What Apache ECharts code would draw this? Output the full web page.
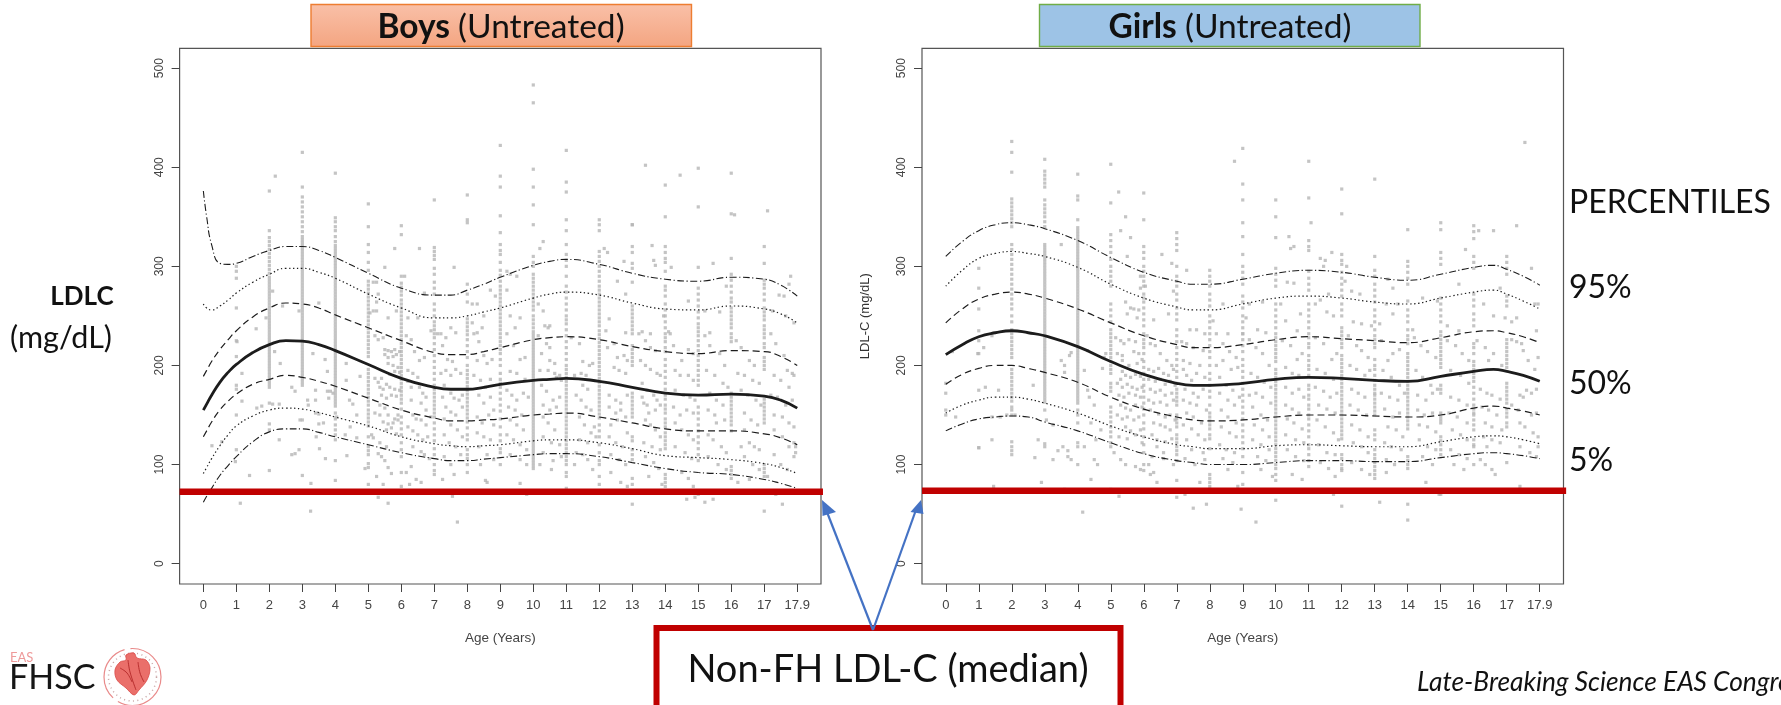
<!DOCTYPE html>
<html><head><meta charset="utf-8"><title>LDL-C percentiles by age</title>
<style>html,body{margin:0;padding:0;background:#fff;overflow:hidden}#c{width:1781px;height:705px}</style>
<script src="https://cdn.jsdelivr.net/npm/echarts@6/dist/echarts.min.js"></script>
</head><body><div id="c"></div>
<script>
const xTickValues=[0,1,2,3,4,5,6,7,8,9,10,11,12,13,14,15,16,17,18];
const xTickLabels=['0','1','2','3','4','5','6','7','8','9','10','11','12','13','14','15','16','17','17.9'];
const yTickValues=[0,100,200,300,400,500];
const nonFhMedianBoys=72.5;
const nonFhMedianGirls=73.5;

const boysCurveAges=[0,0.1,0.25,0.5,0.75,1,1.5,2,2.5,3,3.5,4,5,6,7,7.5,8,8.5,9,10,10.5,11,12,13,14,15,16,17,17.5,18];
const boysP95=[376,350,322,303,302,303,310,316,320,320,316,309,293,278,271,271,276,282,289,301,305,307,302,293,287,285,289,287,281,270];
const boysP90=[262,258,256,260,266,273,284,292,298,298,294,288,272,258,248,248,250,254,258,268,272,274,271,263,257,256,260,257,252,243];
const boysP75=[189,195,204,216,226,235,249,258,263,262,258,251,238,225,213,211,211,214,218,226,228,229,226,219,214,212,215,214,209,200];
const boysP50=[155,161,170,183,193,201,213,221,225,224.5,221,215,201,187,178,176,176,178,181,185,186,187,184,178,172,170,171,169,165,157];
const boysP25=[128,134,143,155,164,171,181,186,190,188,184,179,167,155,147,144,144,145,146,150,151,152,148,142,136,134,134,131,127,120];
const boysP10=[91,97,106,119,130,139,149,155,157,156,152.5,148,139,128,121,119,118,119,120,124,125,125,122,116,109,107,105,101,97,91];
const boysP5=[62,68,76,89,99,108,123,133,136,136,132.5,128,120,112,106,104,104,105.5,107,110,111,111,108,102,96,92,90,85,81,76];

const girlsCurveAges=[0,0.5,1,1.5,2,2.5,3,4,5,6,7,7.5,8,9,10,11,12,13,14,15,16,16.6,17,17.5,18];
const girlsP95=[310,325,336,342,344,342,338,326,309,294,285,282,282,287,293,296,294,289,286,292,299,301,297,290,281];
const girlsP90=[280,296,308,313,315,313,310,299,282,268,259,256,256,262,268,270,268,264,262,268,274,276,272,265,257];
const girlsP75=[243,257,267,272,274,272,268,257,243,230,221,218,218,221,226,229,227,225,223,228,234,235,233,229,223];
const girlsP50=[211,221,229,233,235,233,230,219,204,191,182,180,180,182,186,188,187,185,184,189,194,196,194,190,184];
const girlsP25=[181,191,197,200,200,197,193,183,168,156,148,145,144,145,148,150,150,149,148,150,157,159,157,154,150];
const girlsP10=[152,160,165,168,168,166,162,152,139,128,120,118,116,116,119,120,119,118,118,123,128,129,128,125,121];
const girlsP5=[134,141,146,148,149,148,143,134,122,111,104,102,100,100,102,104,104,103,103,107,111,112,111,109,106];

const columnAges=[1,2,3,4,5,6,7,8,9,10,11,12,13,14,15,16,17];
const boysColumnValues=[
[300,295,288,258,225,209,180,176,150,115],
[376,336,329,325,321,317,313,309,305,301,297,293,289,286,283,280,277,274,271,268,265,262,259,256,253,250,247,244,241,238,235,232,229,226,223,220,217,214,211,208,205,202,199,196,193,190,187,184,181,178,162,141,135,94],
[415,380,370,365,360,355,350,345,340,335,330,327,324,321,318,315,312,309,306,303,300,297,294,291,288,285,282,279,276,273,270,267,264,261,258,255,252,249,246,243,240,237,234,231,228,225,222,219,216,213,210,207,204,201,198,195,192,189,186,183,180,145,89],
[394,349,345,340,336,330,325,321,318,315,312,309,306,303,300,297,294,291,288,285,282,279,276,273,270,267,264,261,258,255,252,249,246,243,240,237,234,231,228,225,222,219,216,213,210,207,204,201,198,195,192,189,186,183,180,177,174,171,168,165,162,159,152,146,140,135,130,125,104,84],
[363,340,322,314,304,296,285,281,277,273,269,265,261,257,253,249,245,241,237,233,229,225,221,217,213,209,196,192,188,184,180,176,172,168,164,160,155,151,147,143,139,128,118,114,110,101,97,80],
[341,332,290,283,279,275,271,266,262,258,254,250,246,242,238,234,230,226,222,218,214,210,206,202,198,194,190,186,182,178,174,170,166,162,156,148,142,136,130,122,115,108,92,78],
[367,319,315,311,307,298,292,284,278,272,262,256,250,244,240,236,232,228,222,216,210,204,198,192,186,180,176,172,168,164,160,156,152,148,142,136,130,124,116,110,100,94,90],
[372,347,344,282,272,264,247,243,239,235,231,226,220,214,208,200,195,191,187,183,179,175,171,167,163,159,155,151,147,143,137,130,125,115,110,106,100,92],
[422,391,380,351,334,322,316,312,304,296,291,285,280,276,272,268,264,260,256,252,248,244,240,236,232,228,224,220,216,212,206,200,192,186,182,178,172,166,160,154,146,138,130,124,116,112,100],
[483,465,398,380,362,342,310,304,300,292,288,284,280,276,272,268,264,260,256,250,246,242,238,234,231,228,225,222,219,216,213,210,207,204,201,198,195,192,189,186,183,180,177,174,171,168,165,162,159,156,153,150,147,144,141,138,135,132,129,126,123,120,117,114,111,108,105,102,99,96],
[417,385,375,347,336,322,312,306,300,290,280,274,268,262,256,250,246,242,236,230,224,218,212,206,200,196,192,188,184,180,176,172,168,164,160,156,152,148,144,140,136,132,128,124,120,116,112,108,104,100,92,88,76],
[347,342,336,315,310,305,300,295,290,285,280,276,272,268,264,260,256,252,248,244,240,235,231,227,223,219,215,211,207,203,199,195,191,187,183,179,175,171,167,163,159,155,151,147,140,134,128,120,112,104,100,88,80],
[342,320,314,303,298,284,260,256,252,248,244,240,236,232,220,216,212,208,204,200,172,168,164,160,156,152,148,128,124,115,110,105,86,80,60],
[382,350,320,314,308,304,295,280,276,270,262,256,250,244,238,232,228,224,218,214,206,200,194,188,182,176,170,166,160,156,152,146,142,138,132,128,124,120,116,90,86,82,78],
[399,360,299,278,272,266,260,254,248,242,238,234,230,225,220,215,210,205,200,195,190,185,180,158,152,146,140,134,128,122,116,110,104,70],
[394,353,308,292,286,280,274,268,264,258,254,250,246,242,238,232,228,224,172,168,164,160,156,152,148,144,140,134,98,94,90,86],
[320,303,286,282,278,272,266,258,254,250,246,240,236,232,228,222,218,208,204,200,196,166,162,158,154,150,146,142,100,96,92,88]
];
const boysScatterFlat=[
2.18,391,2.1,275,2.4,260,2.9,255,3.5,263,1.6,237,1.9,248,1.02,224,1.17,192,1.17,164,0.26,119,0.56,123,0.97,103,1.4,89,1.12,61,1.62,157,1.77,159,2.1,161,2.3,161,2.16,214,2.33,202,2.3,125,2.68,178,2.78,174,2.93,145,2.68,110,2.78,111,2.9,115,3.26,81,3.16,165,3.18,160,3.4,165,3.4,175,3.32,212,3.69,206,3.76,194,3.76,174,3.85,174,3.93,172,3.8,167,3.4,152,3.5,151,3.64,142,3.5,141,3.42,128,3.52,116,3.7,106,4.35,109,4.33,202,4.33,185,4.43,165,4.53,161,4.04,148,4.45,138,4.65,150,4.3,130,4.65,127,4.75,189,3.25,53,4.9,96,
5.15,284,5.25,284,5.3,272,5.25,264,5.15,255,5.25,255,5.05,253,5.6,248,5.85,255,5.5,299,5.8,318,6.1,290,6.55,318,6.5,248,6.7,273,6.2,248,6.9,235,7.1,232,7.6,299,7.5,238,7.65,233,8.15,243,8.3,233,8.5,250,8.15,262,8.3,262,8.45,238,8.7,276,8.85,270,
9.2,295,9.3,292,9.5,290,9.2,276,9.3,250,9.45,238,9.6,248,10.3,325,10.2,318,10.15,262,10.3,255,10.35,240,10.5,240,10.45,238,
12.15,318,12.25,314,12.3,247,12.55,285,12.75,305,12.8,272,13,342,13.4,402,13.6,321,13.7,301,13.65,306,12.8,233,13.3,234,13.55,232,14.18,299,13.95,250,14.1,234,14.7,265,14.45,392,15.2,255,15.35,233,15.45,303,15.85,280,15.65,254,16.1,352,17.1,356,17.8,290,17.75,282,17.45,271,17.6,270,17.25,255,17.65,250,17.9,243,
5.2,230,5.3,226,5.45,228,5.5,216,5.6,215,5.7,214,5.8,216,5.95,214,5.5,211,5.6,208,5.75,209,5.85,211,5.6,202,5.75,200,5.9,198,5.65,191,5.8,194,5.95,193,5.2,187,5.3,183,5.4,187,5.35,178,5.45,176,5.55,181,5.65,178,5.8,176,5.95,175,5.4,170,5.55,167,5.7,170,5.85,169,5.35,160,5.5,157,5.2,152,5.35,150,5.6,150,5.8,146,5.9,150,5.45,143,5.6,141,5.75,142,5.9,145,5.55,135,5.7,137,5.85,131,5.1,130,5.15,127,5.35,122,5.55,118,5.3,111,5.4,108,5.5,104,5.6,97,5.7,91,5.25,88,5.45,80,5.3,67,5.6,61,
6.15,230,6.3,226,6.4,214,6.55,205,6.7,208,6.2,195,6.35,192,6.5,188,6.2,184,6.3,178,6.55,178,6.65,172,6.75,168,6.3,165,6.6,162,6.75,155,6.35,150,6.45,146,6.6,145,6.75,140,6.9,148,6.2,138,6.35,134,6.5,130,6.65,125,6.8,128,6.35,118,6.6,113,6.7,110,6.85,106,6.3,98,6.15,92,6.45,85,6.25,80,6.6,82,
7.2,232,7.35,228,7.25,220,7.4,206,7.55,204,7.2,192,7.35,195,7.5,190,7.65,196,7.8,192,7.3,180,7.25,168,7.5,172,7.6,167,7.75,165,7.85,170,7.35,158,7.5,153,7.65,150,7.85,158,7.3,146,7.5,140,7.7,135,7.85,128,7.3,130,7.45,122,7.65,118,7.8,110,7.3,108,7.5,100,7.6,90,7.25,85,7.7,42,7.55,68,
8.2,232,8.35,224,8.5,210,8.3,205,8.6,202,8.75,206,8.2,190,8.4,185,8.55,178,8.7,186,8.35,170,8.5,162,8.7,168,8.8,155,8.3,148,8.45,142,8.65,150,8.8,140,8.3,132,8.5,128,8.7,125,8.35,118,8.6,110,8.8,105,8.4,100,8.55,84,8.6,82,
9.2,232,9.4,220,9.6,206,9.75,208,9.3,194,9.5,192,9.75,186,9.2,175,9.35,170,9.5,165,9.7,172,9.85,168,9.25,158,9.45,155,9.65,150,9.3,145,9.5,140,9.7,135,9.2,130,9.4,125,9.6,120,9.8,115,9.3,110,9.6,105,9.8,100,9.6,81,9.8,70,
10.15,230,10.4,222,10.5,218,10.25,212,10.5,205,10.65,202,10.2,195,10.45,195,10.65,192,10.8,190,10.85,185,10.7,188,10.25,180,10.4,174,10.6,165,10.8,168,10.3,160,10.5,155,10.7,158,10.3,148,10.45,142,10.65,135,10.3,128,10.55,122,10.8,120,10.3,112,10.6,104,10.55,95,10.2,100,10.85,108,
11.15,228,11.4,222,11.5,204,11.7,200,11.8,202,11.25,190,11.45,192,11.6,190,11.5,180,11.65,176,11.45,165,11.6,158,11.75,155,11.3,170,11.4,148,11.55,140,11.75,132,11.85,138,11.4,125,11.65,122,11.9,128,11.3,112,11.5,110,11.65,105,11.25,100,11.8,95,
12.2,235,12.25,218,12.45,222,12.55,208,12.75,210,12.85,205,12.45,198,12.6,195,12.8,192,12.3,170,12.5,165,12.65,162,12.85,170,12.3,158,12.5,152,12.65,155,12.8,148,12.35,140,12.55,145,12.85,132,12.3,128,12.5,122,12.7,118,12.35,110,12.6,105,12.8,100,12.35,92,12.65,82,12.85,78,
13.2,232,13.4,225,13.55,218,13.7,215,13.25,205,13.4,200,13.55,196,13.75,192,13.85,190,13.3,182,13.45,175,13.3,168,13.35,162,13.45,160,13.65,170,13.75,165,13.85,160,13.5,152,13.7,155,13.4,145,13.55,140,13.7,135,13.85,128,13.35,122,13.6,118,13.85,115,13.4,108,13.65,102,13.8,96,13.5,88,13.9,80,
14.15,232,14.25,220,14.5,205,14.7,216,14.85,212,14.3,195,14.45,190,14.7,190,14.85,185,14.3,175,14.55,170,14.75,168,14.9,165,14.25,158,14.45,150,14.65,155,14.85,152,14.3,142,14.5,135,14.7,130,14.85,125,14.3,118,14.6,112,14.8,106,14.5,92,14.7,86,14.85,78,14.65,65,14.9,67,
15.2,230,15.35,220,15.65,212,15.8,200,15.25,195,15.5,190,15.75,182,15.9,178,15.35,172,15.55,165,15.75,160,15.3,155,15.5,150,15.8,145,15.55,142,15.3,130,15.45,125,15.7,118,15.85,112,15.3,108,15.6,100,15.85,95,15.45,65,15.2,62,
16.15,225,16.3,218,16.55,205,16.7,200,16.2,192,16.4,190,16.65,185,16.85,182,16.3,175,16.5,170,16.75,165,16.9,160,16.4,152,16.6,145,16.8,140,16.4,135,16.55,122,16.7,118,16.3,118,16.85,115,16.4,108,16.65,100,16.85,95,16.55,85,16.2,82,
17.2,232,17.35,222,17.6,210,17.7,195,17.85,192,17.3,190,17.5,185,17.75,178,17.9,190,17.2,170,17.4,168,17.65,160,17.85,165,17.3,150,17.55,148,17.75,142,17.9,138,17.3,135,17.55,128,17.75,118,17.9,122,17.95,112,17.3,110,17.5,100,17.7,95,17.9,108,17.95,118,17.1,88,17.35,70,17.55,60,17,53
];

const girlsColumnValues=[
[298,278,257,235,225,175,117],
[426,415,395,368,364,360,356,352,348,344,340,322,317,312,307,302,297,292,287,282,277,272,267,262,257,250,244,236,232,228,224,220,216,212,208,196,192,188,184,180,176,172,168,164,158,155,150,123,118,114,110],
[408,396,392,388,384,380,367,362,358,354,350,345,340,322,319,316,313,310,307,304,301,298,295,292,289,286,283,280,277,274,271,268,265,262,259,256,253,250,247,244,241,238,235,232,229,226,223,220,217,214,211,208,205,202,199,196,193,190,187,184,181,178,175,172,169,166,163,155,121,118],
[393,371,367,347,339,336,333,330,327,324,321,318,315,312,309,306,303,300,297,294,291,288,285,282,279,276,273,270,267,264,261,258,255,252,249,246,243,240,237,234,231,228,225,222,219,216,213,210,207,204,201,198,195,192,189,186,183,180,177,174,171,168,165,162,155,150,142,122,118,100],
[403,364,332,326,320,314,307,300,295,290,285,280,262,256,250,244,236,232,228,224,220,216,212,208,204,200,196,192,182,178,174,158,153,148,143,138,133,128,122,118,75],
[374,347,320,314,308,300,295,290,285,280,272,268,264,258,252,246,240,232,226,222,218,212,204,198,192,186,180,174,168,162,156,150,142,136,128,120,112,100,94],
[334,328,322,316,300,290,285,280,272,266,258,252,246,236,230,224,218,212,206,200,194,188,182,176,172,168,164,160,150,146,142,138,130,126,122,118,114,110,104,84,67],
[296,290,285,280,272,266,260,250,244,238,232,226,220,214,208,200,192,186,180,174,168,160,152,148,144,140,136,130,126,116,90,86,82,78],
[419,383,367,344,330,312,300,294,288,282,270,264,258,250,244,238,232,226,220,214,206,200,194,188,182,176,170,164,158,152,146,140,134,128,122,116,108,92,80],
[367,350,329,298,292,286,280,262,256,250,244,238,232,228,224,220,216,212,208,204,196,192,188,184,180,176,172,168,164,160,156,152,148,144,140,136,132,128,124,120,116,112,108,104,100,96,90,84,64],
[406,369,326,320,316,295,288,282,276,262,256,250,244,238,232,228,222,218,210,205,200,196,190,180,176,170,166,160,156,150,146,140,134,128,120,116,110,104,98],
[378,353,312,306,302,294,288,282,276,270,262,256,250,238,234,230,226,222,218,210,206,202,198,194,190,186,182,178,174,170,166,162,158,154,150,146,142,138,134,130,126,110,106,100,96,94,58],
[388,310,296,290,282,276,270,264,256,250,244,236,230,226,222,218,206,200,196,190,185,180,176,172,170,166,162,158,154,150,135,130,125,115,110,106,102,98,94,90,86],
[337,305,300,294,288,282,265,256,250,244,236,230,226,222,212,208,204,200,196,192,188,184,180,176,172,168,164,160,156,152,148,144,140,136,108,104,100,96,60],
[344,337,314,308,302,268,262,256,250,244,234,230,226,222,218,214,210,206,202,198,180,176,172,152,148,145,142,128,124,120,115,110,70],
[341,335,328,310,304,298,272,266,260,252,246,240,222,218,212,204,200,196,192,188,184,178,172,166,160,156,152,150,145,140,135,125,120,118,100],
[310,304,298,292,270,265,260,226,222,218,214,210,206,202,198,182,178,174,170,166,162,156,152,148,142,138,102]
];
const girlsScatterFlat=[
1.4,230,0.2,214,1.15,218,1.0,212,0.97,212,1.2,178,1.6,175,0.0,182,0.0,172,0.3,148,0.0,155,0.0,150,1.4,148,1.65,148,1.85,150,2.1,150,1.4,125,1.0,117,1.45,78,
3.5,322,3.8,213,3.75,210,3.5,205,3.6,200,3.6,193,3.25,140,2.65,180,2.8,125,2.7,107,3.05,145,3.25,105,3.4,114,3.7,114,3.55,118,3.7,108,3.8,105,4.2,195,4.3,175,4.3,215,4.15,52,4.35,168,4.5,160,4.4,142,4.55,125,4.2,118,4.5,105,4.6,100,4.7,135,4.75,197,4.8,208,4.85,212,4.4,85,3.6,75,2.9,82,
5.24,375,5.45,350,5.3,336,5.6,329,5.5,310,5.9,290,6.05,280,5.85,256,5.9,278,5.45,264,5.6,258,5.7,257,5.5,252,5.8,248,6.3,246,6.85,303,6.55,312,6.9,275,6.75,252,7.3,296,7.4,236,7.6,236,7.85,232,8.1,245,8.4,262,8.55,232,8.75,406,9,232,9.1,248,9.2,262,9.45,236,9.6,264,9.7,233,10.4,330,10.55,320,10.45,318,10.35,284,10.55,283,10.15,262,10.65,235,10.75,252,10.3,245,11.07,344,11.7,314,11.5,306,11.35,308,11.45,300,11.2,262,11.35,266,11.55,254,11.6,272,11.75,250,12.15,300,12.1,285,12.3,275,12.55,272,12.35,244,12.6,242,12.9,240,13.15,242,13.35,262,13.55,278,13.7,262,13.4,287,13.55,252,14.15,236,14.45,268,14.9,265,15.2,240,15.55,235,15.75,317,15.55,282,16.15,336,16.6,336,16.8,278,16.3,262,16.6,250,16.95,248,17.3,341,17.55,425,17.75,298,17.85,262,17.3,248,17.15,244,17.95,262,17.9,235,
5.15,228,5.3,225,5.4,222,5.55,226,5.75,224,5.2,212,5.35,210,5.7,214,5.85,212,5.35,205,5.55,200,5.8,202,5.95,206,5.35,194,5.3,186,5.45,190,5.6,188,5.75,191,5.9,189,5.2,182,5.35,178,5.5,181,5.65,178,5.8,176,5.95,178,5.25,170,5.4,168,5.55,172,5.75,170,5.9,168,5.3,160,5.45,157,5.6,155,5.75,160,5.95,158,5.2,150,5.35,146,5.5,148,5.7,145,5.85,148,5.45,138,5.6,134,5.75,130,5.9,135,5.25,128,5.5,126,5.95,122,5.1,112,5.3,105,5.45,100,5.75,98,5.9,95,5.25,68,
6.1,230,6.2,222,6.35,220,6.5,212,6.7,205,6.85,200,6.15,196,6.3,194,6.45,197,6.6,192,6.75,190,6.9,196,6.15,186,6.35,184,6.5,186,6.65,181,6.8,184,6.95,180,6.2,176,6.35,173,6.5,175,6.65,170,6.85,172,6.15,165,6.3,162,6.5,163,6.7,160,6.9,165,6.2,155,6.45,151,6.65,148,6.8,150,6.95,145,6.3,142,6.5,140,6.65,138,6.8,135,6.25,130,6.4,125,6.65,123,6.85,126,6.4,118,6.6,112,6.25,108,6.15,100,6.3,92,6.2,90,6.6,106,6.9,100,6.4,82,
7.15,224,7.3,222,7.5,218,7.8,215,7.2,205,7.4,202,7.7,200,7.2,196,7.3,190,7.45,185,7.6,192,7.85,188,7.25,176,7.5,172,7.65,168,7.8,176,7.2,165,7.4,162,7.6,160,7.9,155,7.3,152,7.5,148,7.75,142,7.2,140,7.45,136,7.65,130,7.85,125,7.3,125,7.45,115,7.8,112,7.25,106,7.55,100,7.85,105,7.5,56,7.9,60,7.7,82,7.25,70,
8.2,232,8.4,222,8.6,214,8.8,208,8.2,200,8.4,205,8.65,196,8.85,198,8.3,188,8.5,180,8.7,175,8.9,168,8.3,172,8.55,165,8.75,160,8.35,155,8.55,148,8.8,142,8.35,138,8.6,132,8.8,128,8.3,120,8.5,115,8.75,112,8.4,106,8.7,102,8.55,95,8.85,78,8.95,55,
9.2,226,9.4,218,9.6,212,9.8,200,9.25,192,9.45,188,9.65,183,9.85,178,9.2,170,9.4,172,9.6,168,9.85,162,9.3,158,9.55,150,9.75,145,9.35,140,9.6,135,9.8,128,9.3,125,9.55,120,9.8,115,9.45,108,9.7,104,9.4,42,9.55,95,9.9,88,
10.2,225,10.45,220,10.65,206,10.8,212,10.3,198,10.5,192,10.7,190,10.3,178,10.5,172,10.7,176,10.85,168,10.3,160,10.5,156,10.7,152,10.35,146,10.55,142,10.8,136,10.3,130,10.6,125,10.85,122,10.35,115,10.6,108,10.85,104,10.5,90,10.8,85,
11.2,228,11.45,222,11.7,206,11.85,212,11.25,196,11.5,192,11.75,186,11.2,178,11.45,174,11.65,168,11.85,172,11.3,160,11.55,156,11.8,152,11.25,145,11.5,138,11.75,132,11.9,125,11.3,120,11.55,112,11.8,110,11.35,102,11.6,96,11.8,88,11.75,70,
12.2,230,12.45,220,12.6,215,12.8,208,12.25,200,12.45,196,12.7,190,12.85,195,12.3,176,12.5,172,12.7,168,12.25,160,12.5,155,12.75,150,12.3,140,12.55,135,12.8,128,12.35,122,12.6,118,12.8,112,12.3,102,12.6,95,12.85,90,
13.2,225,13.4,205,13.55,212,13.75,216,13.25,195,13.5,188,13.75,180,13.2,172,13.45,168,13.7,165,13.9,172,13.3,156,13.55,148,13.75,152,13.4,138,13.65,135,13.85,128,13.3,122,13.5,118,13.8,115,13.35,105,13.6,100,13.35,92,13.15,62,14,44,
14.2,228,14.4,220,14.6,214,14.85,208,14.25,195,14.45,188,14.7,180,14.9,176,14.3,170,14.55,165,14.75,172,14.3,155,14.5,150,14.75,152,14.35,140,14.6,138,14.85,133,14.35,125,14.6,118,14.85,115,14.45,108,14.75,100,14.95,70,14.55,82,
15.2,225,15.45,220,15.65,212,15.85,205,15.3,195,15.6,190,15.85,182,15.3,168,15.55,165,15.8,160,15.25,152,15.5,148,15.8,142,15.35,135,15.6,130,15.8,125,15.3,115,15.55,110,15.8,106,15.4,100,15.7,95,
16.1,225,16.35,218,16.45,205,16.6,212,16.85,200,16.2,176,16.4,172,16.55,170,16.8,166,16.25,158,16.45,155,16.7,150,16.35,142,16.55,138,16.85,135,16.3,128,16.55,125,16.8,122,16.4,118,16.2,105,16.35,100,16.55,95,16.65,90,
17.15,226,17.3,224,17.45,222,17.5,215,17.65,205,17.95,208,17.85,196,17.6,175,17.75,172,17.4,170,17.5,168,17.9,176,17.15,160,17.35,155,17.75,150,17.9,152,17.4,142,17.55,138,17.8,132,17.95,128,17.4,118,17.7,112,17.9,108,17.95,118,17.4,78
];

const points=(flat)=>{const r=[];for(let i=0;i<flat.length;i+=2)r.push([flat[i],flat[i+1]]);return r;};
const columnPoints=(vals)=>{const r=[];vals.forEach((list,i)=>list.forEach(v=>r.push([columnAges[i],v])));return r;};
const curve=(ages,vals)=>ages.map((a,i)=>[a,vals[i]]);

const ink='#1c1c1c';
const styles=[
 {w:1.1,t:[7,2.5,1.2,2.5]},{w:1.2,t:[1.4,2.6]},{w:1.2,t:[7,4]},{w:2.8,t:'solid'},{w:1.2,t:[7,4]},{w:1.2,t:[1.4,2.6]},{w:1.1,t:[7,2.5,1.2,2.5]}
];
function panel(idx,ages,curves,columnVals,scatterFlat,red,redEnd){
 const s=[{type:'scatter',xAxisIndex:idx,yAxisIndex:idx,symbol:'rect',symbolSize:[3.2,3.2],silent:true,z:1,large:false,
   itemStyle:{color:'#b5b5b5'},data:columnPoints(columnVals).concat(points(scatterFlat))}];
 curves.forEach((c,i)=>s.push({type:'line',xAxisIndex:idx,yAxisIndex:idx,data:curve(ages,c),smooth:0.5,symbol:'none',silent:true,z:3,
   lineStyle:{color:ink,width:styles[i].w,type:styles[i].t}}));
 s.push({type:'line',xAxisIndex:idx,yAxisIndex:idx,data:[[-0.72,red],[redEnd,red]],symbol:'none',silent:true,clip:false,z:5,
   lineStyle:{color:'#c00000',width:6.5}});
 return s;
}
const xAxis=(idx)=>({type:'value',gridIndex:idx,min:-0.72,max:18.72,
  axisLine:{show:false,onZero:false},splitLine:{show:false},
  axisTick:{show:true,length:8,inside:false,customValues:xTickValues,lineStyle:{color:'#444'}},
  axisLabel:{show:true,customValues:xTickValues,margin:15,fontSize:13,color:'#444',fontFamily:'Liberation Sans',formatter:v=>xTickLabels[Math.round(v)]},
  name:'Age (Years)',nameLocation:'middle',nameGap:47,nameTextStyle:{fontSize:13.5,color:'#444',fontFamily:'Liberation Sans'}});
const yAxis=(idx,name)=>({type:'value',gridIndex:idx,min:-20.5,max:520,
  axisLine:{show:false,onZero:false},splitLine:{show:false},
  axisTick:{show:true,length:8,customValues:yTickValues,lineStyle:{color:'#444'}},
  axisLabel:{show:true,customValues:yTickValues,rotate:90,margin:14,fontSize:12,color:'#444',fontFamily:'Liberation Sans'},
  name:name,nameLocation:'middle',nameGap:50,nameTextStyle:{fontSize:13,color:'#333',fontFamily:'Liberation Sans'}});

const Lato='Lato, "Open Sans", sans-serif';
const txt=(text,x,y,size,o={})=>({type:'text',silent:true,z:20,style:Object.assign({text,x,y,fill:'#111',
   font:`${o.style||''} ${o.weight||'normal'} ${size}px ${Lato}`,textAlign:o.align||'left',textVerticalAlign:'middle'},o.extra||{})});
const titleBox=(x,w,c1,c2,stroke)=>({type:'rect',silent:true,z:15,shape:{x,y:4.5,width:w,height:42},
   style:{fill:{type:'linear',x:0,y:0,x2:0,y2:1,colorStops:[{offset:0,color:c1},{offset:1,color:c2}]},stroke,lineWidth:1.4}});
const titleText=(cx,b)=>({type:'text',silent:true,z:16,style:{text:`{b|${b}\u00a0}{n|(Untreated)}`,x:cx,y:27,textAlign:'center',textVerticalAlign:'middle',
   rich:{b:{font:`bold 33.5px ${Lato}`,fill:'#111'},n:{font:`normal 33.5px ${Lato}`,fill:'#111'}}}});
const arrow=(x0,y0,x1,y1,tri)=>[
 {type:'line',silent:true,z:18,shape:{x1:x0,y1:y0,x2:x1,y2:y1},style:{stroke:'#4472c4',lineWidth:2.2}},
 {type:'polygon',silent:true,z:18,shape:{points:tri},style:{fill:'#4472c4'}}];

const graphics=[
 titleBox(311,380.5,'#f9c0a8','#f4a581','#ed7d31'),titleText(501,'Boys'),
 titleBox(1039.5,380.5,'#9dc3e6','#9dc3e6','#70ad47'),titleText(1230,'Girls'),
 txt('LDLC',82,297,26,{weight:'bold',align:'center'}),
 txt('(mg/dL)',61,338,30.5,{align:'center'}),
 txt('PERCENTILES',1569,203,32),
 txt('95%',1569,288,32),txt('50%',1569,384,32),txt('5%',1569,461,32),
 {type:'rect',silent:true,z:17,shape:{x:656.5,y:628,width:464,height:80},style:{fill:'#fff',stroke:'#c00000',lineWidth:6}},
 txt('Non-FH LDL-C (median)',888,670,38,{align:'center'}),
 ...arrow(873,630,825,507,[[822,500],[836,512],[822.5,516]]),
 ...arrow(873,630,917,507,[[921,500],[910.5,512],[923.5,514]]),
 txt('Late-Breaking Science EAS Congress',1417,683,26.3,{style:'italic'}),
 txt('EAS',10,658,13,{extra:{fill:'#ee9a9a'}}),
 txt('FHSC',9,678,34,{extra:{fill:'#161616'}}),
 {type:'circle',silent:true,z:19,shape:{cx:132.5,cy:677,r:28.5},style:{fill:'#fff',stroke:'#e98a8a',lineWidth:1.2,lineDash:[60,6]}},
 {type:'circle',silent:true,z:19,shape:{cx:132.5,cy:677,r:24},style:{fill:'none',stroke:'#c9a5a5',lineWidth:1.5,lineDash:[1,3.5]}},
 {type:'polygon',silent:true,z:20,shape:{smooth:0.35,points:[[126,655],[134,653],[137,658],[146,660],[150,668],[147,680],[139,690],[134,695],[126,688],[117,680],[115,670],[120,662],[126,660]]},
  style:{fill:'#ea6f6a',stroke:'#d94a48',lineWidth:0.8}},
 {type:'polyline',silent:true,z:21,shape:{smooth:0.4,points:[[128,660],[130,672],[136,690]]},style:{fill:'none',stroke:'#b92f2f',lineWidth:1}},
 {type:'polyline',silent:true,z:21,shape:{smooth:0.4,points:[[138,662],[140,673],[144,682]]},style:{fill:'none',stroke:'#b92f2f',lineWidth:1}},
 {type:'polyline',silent:true,z:21,shape:{smooth:0.4,points:[[120,668],[127,673],[132,682]]},style:{fill:'none',stroke:'#b92f2f',lineWidth:1}}
];

const chart=echarts.init(document.getElementById('c'),null,{renderer:'canvas'});
chart.setOption({
 animation:false,backgroundColor:'#fff',tooltip:{show:false},
 grid:[
  {left:179.6,width:641.4,top:48.3,height:535.7,show:true,borderColor:'#555',borderWidth:1.2,backgroundColor:'#fff',containLabel:false},
  {left:922,width:641.5,top:48.3,height:535.7,show:true,borderColor:'#555',borderWidth:1.2,backgroundColor:'#fff',containLabel:false}
 ],
 xAxis:[xAxis(0),xAxis(1)],
 yAxis:[yAxis(0,''),yAxis(1,'LDL-C (mg/dL)')],
 series:[
  ...panel(0,boysCurveAges,[boysP95,boysP90,boysP75,boysP50,boysP25,boysP10,boysP5],boysColumnValues,boysScatterFlat,nonFhMedianBoys,18.78),
  ...panel(1,girlsCurveAges,[girlsP95,girlsP90,girlsP75,girlsP50,girlsP25,girlsP10,girlsP5],girlsColumnValues,girlsScatterFlat,nonFhMedianGirls,18.8)
 ],
 graphic:{elements:graphics}
});
</script></body></html>
